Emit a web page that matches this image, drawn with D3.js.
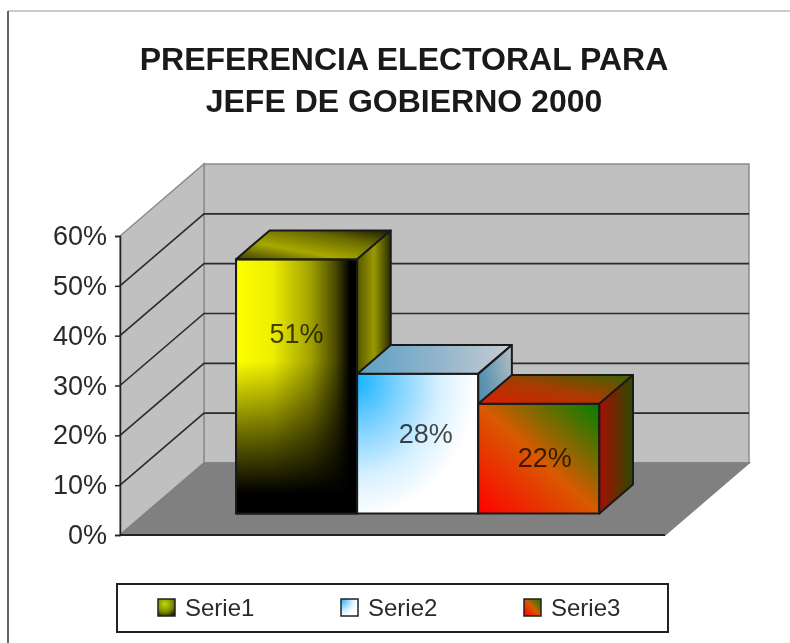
<!DOCTYPE html>
<html>

<head>
    <meta charset="utf-8">
    <title>Preferencia electoral</title>
    <style>
        html, body {
            margin: 0;
            padding: 0;
            background: #fff;
        }

        svg {
            display: block;
            font-family: 'Liberation Sans', Arial, sans-serif;
            /* the source is a soft jpeg */
            filter: blur(0.55px);
        }

        .y .domain,
        .y .tick line {
            stroke: #222;
            stroke-width: 1.5px;
        }

        .y .tick text {
            font-size: 27px;
            fill: #2a2a2a;
        }
    </style>
</head>

<body>
    <svg width="790" height="643"></svg>
    <script src="https://d3js.org/d3.v7.min.js"></script>
    <script>
        let titleLines = ["PREFERENCIA ELECTORAL PARA", "JEFE DE GOBIERNO 2000"];
        let seriesNames = ["Serie1", "Serie2", "Serie3"];
        let seriesValues = [51, 28, 22];
        let valueLabels = ["51%", "28%", "22%"];
        let yTicks = [0, 10, 20, 30, 40, 50, 60];
        let gridValues = [10, 20, 30, 40, 50];

        let svg = d3.select("svg");
        let defs = svg.append("defs");

        // chart box, front plane of the 3d plot
        let plot = { left: 120, right: 665, top: 236, bottom: 535 };
        let depth = { dx: 84, dy: -72 };
        let barDepth = [0.3, 0.7]; // bars sit between these fractions of the depth

        let x = d3.scaleBand()
            .domain(seriesNames)
            .range([plot.left, plot.right])
            .paddingInner(0)
            .paddingOuter(0.75);

        let y = d3.scaleLinear()
            .domain([0, 60])
            .range([plot.bottom, plot.top]);

        // x in pixels, value in %, d = 0 front .. 1 back
        let pt = (px, v, d) => [px + depth.dx * d, y(v) + depth.dy * d];
        let poly = d3.line();

        // gradients
        function linear(id, x1, y1, x2, y2, stops) {
            let g = defs.append("linearGradient").attr("id", id)
                .attr("x1", x1).attr("y1", y1).attr("x2", x2).attr("y2", y2);
            stops.forEach(s => g.append("stop")
                .attr("offset", s[0])
                .attr("stop-color", s[1])
                .attr("stop-opacity", s[2] === undefined ? 1 : s[2]));
        }
        function radial(id, cx, cy, r, stops) {
            let g = defs.append("radialGradient").attr("id", id)
                .attr("cx", cx).attr("cy", cy).attr("r", r);
            stops.forEach(s => g.append("stop").attr("offset", s[0]).attr("stop-color", s[1]));
        }

        linear("front0", 0, 0, 1, 0, [[0, "#ffff00"], [0.3, "#eeee00"], [0.62, "#a0a000"], [0.82, "#4a4a00"], [0.94, "#000"], [1, "#000"]]);
        // darkens the first bar towards the floor
        linear("shade0", 0, 0, 0, 1, [[0, "#000", 0], [0.4, "#000", 0], [0.7, "#000", 0.6], [0.92, "#000", 1], [1, "#000", 1]]);
        radial("swatch0", 0.4, 0.3, 0.8, [[0, "#c4d800"], [0.6, "#7a8a00"], [1, "#1a1a00"]]);
        linear("top0", 0, 1, 1, 0, [[0, "#3d3d00"], [0.35, "#a8a800"], [0.7, "#6b6b00"], [1, "#1a1a00"]]);
        linear("side0", 0, 0, 1, 0, [[0, "#555500"], [0.5, "#9a9a00"], [1, "#2a2a00"]]);

        radial("front1", 0, 0.05, 1.15, [[0, "#18b4ff"], [0.3, "#7fd2ff"], [0.6, "#d8f1ff"], [0.85, "#ffffff"], [1, "#ffffff"]]);
        linear("top1", 0, 0, 1, 0, [[0, "#5d9fc4"], [0.5, "#8fb4cb"], [1, "#c6cdd2"]]);
        linear("side1", 0, 1, 1, 0, [[0, "#2f7d9c"], [0.5, "#5f95b0"], [1, "#b5bec4"]]);

        linear("front2", 0, 1, 1, 0, [[0, "#ff0000"], [0.5, "#d85a00"], [1, "#008000"]]);
        linear("top2", 0, 1, 1, 0, [[0, "#d82000"], [0.5, "#a83c00"], [1, "#356600"]]);
        linear("side2", 0, 0, 1, 0, [[0, "#a81000"], [0.5, "#6a2a00"], [1, "#2a4a00"]]);

        // frame of the picture
        svg.append("line").attr("x1", 8).attr("x2", 790).attr("y1", 11).attr("y2", 11)
            .attr("stroke", "#bbb").attr("stroke-width", 1.5);
        svg.append("line").attr("x1", 8).attr("x2", 8).attr("y1", 11).attr("y2", 643)
            .attr("stroke", "#333").attr("stroke-width", 1.5);

        // title
        svg.append("g")
            .selectAll("text")
            .data(titleLines)
            .join("text")
            .attr("x", 404)
            .attr("y", (d, i) => 70 + i * 42)
            .attr("text-anchor", "middle")
            .attr("font-size", 32)
            .attr("font-weight", 700)
            .attr("fill", "#1a1a1a")
            .text(d => d);

        // walls and floor
        let walls = svg.append("g").attr("stroke", "#8c8c8c").attr("stroke-width", 1.5);
        walls.append("path")
            .attr("d", poly([pt(plot.left, 0, 1), pt(plot.right, 0, 1), pt(plot.right, 60, 1), pt(plot.left, 60, 1)]) + "Z")
            .attr("fill", "#c0c0c0");
        walls.append("path")
            .attr("d", poly([pt(plot.left, 0, 0), pt(plot.left, 0, 1), pt(plot.left, 60, 1), pt(plot.left, 60, 0)]) + "Z")
            .attr("fill", "#c0c0c0");
        walls.append("path")
            .attr("d", poly([pt(plot.left, 0, 0), pt(plot.right, 0, 0), pt(plot.right, 0, 1), pt(plot.left, 0, 1)]) + "Z")
            .attr("fill", "#808080")
            .attr("stroke", "#808080");

        // gridlines on left wall and back wall
        svg.append("g")
            .selectAll("path")
            .data(gridValues)
            .join("path")
            .attr("d", v => poly([pt(plot.left, v, 0), pt(plot.left, v, 1), pt(plot.right, v, 1)]))
            .attr("fill", "none")
            .attr("stroke", "#2b2b2b")
            .attr("stroke-width", 1.6);

        // floor front edge
        svg.append("line")
            .attr("x1", plot.left).attr("x2", plot.right)
            .attr("y1", y(0)).attr("y2", y(0))
            .attr("stroke", "#222").attr("stroke-width", 2);

        let yAxis = d3.axisLeft(y)
            .tickValues(yTicks)
            .tickSize(5)
            .tickPadding(8)
            .tickFormat(d => d + "%");

        svg.append("g")
            .attr("class", "y")
            .attr("transform", `translate(${plot.left},0)`)
            .call(yAxis);

        // bars, left to right so each one covers the side of the previous
        let bars = svg.append("g")
            .selectAll("g")
            .data(seriesNames)
            .join("g")
            .attr("stroke", "#1a1a1a")
            .attr("stroke-width", 2)
            .attr("stroke-linejoin", "round");

        let d0 = barDepth[0];
        let d1 = barDepth[1];

        let frontFace = (d, i) => {
            let a = x(d);
            let b = a + x.bandwidth();
            let v = seriesValues[i];
            return poly([pt(a, 0, d0), pt(b, 0, d0), pt(b, v, d0), pt(a, v, d0)]) + "Z";
        };

        bars.append("path")
            .attr("fill", (d, i) => `url(#front${i})`)
            .attr("d", frontFace);

        bars.filter((d, i) => i == 0)
            .append("path")
            .attr("fill", "url(#shade0)")
            .attr("d", frontFace);

        bars.append("path")
            .attr("fill", (d, i) => `url(#top${i})`)
            .attr("d", (d, i) => {
                let a = x(d);
                let b = a + x.bandwidth();
                let v = seriesValues[i];
                return poly([pt(a, v, d0), pt(b, v, d0), pt(b, v, d1), pt(a, v, d1)]) + "Z";
            });

        bars.append("path")
            .attr("fill", (d, i) => `url(#side${i})`)
            .attr("d", (d, i) => {
                let b = x(d) + x.bandwidth();
                let v = seriesValues[i];
                return poly([pt(b, 0, d0), pt(b, 0, d1), pt(b, v, d1), pt(b, v, d0)]) + "Z";
            });

        // value labels, Excel puts them a bit off centre
        let labelShift = [[0, -53], [8, -10], [6, -1]];

        svg.append("g")
            .selectAll("text")
            .data(valueLabels)
            .join("text")
            .attr("x", (d, i) => x(seriesNames[i]) + x.bandwidth() / 2 + depth.dx * d0 + labelShift[i][0])
            .attr("y", (d, i) => (pt(0, 0, d0)[1] + pt(0, seriesValues[i], d0)[1]) / 2 + labelShift[i][1])
            .attr("dy", "0.35em")
            .attr("text-anchor", "middle")
            .attr("font-size", 27)
            .attr("fill", "#000")
            .attr("fill-opacity", 0.72)
            .text(d => d);

        // legend
        svg.append("rect")
            .attr("x", 117).attr("y", 584)
            .attr("width", 551).attr("height", 48)
            .attr("fill", "#fff")
            .attr("stroke", "#222")
            .attr("stroke-width", 2);

        let legendX = d3.scalePoint()
            .domain(seriesNames)
            .range([158, 524]);

        let legend = svg.append("g")
            .selectAll("g")
            .data(seriesNames)
            .join("g")
            .attr("transform", d => `translate(${legendX(d)},599)`);

        legend.append("rect")
            .attr("width", 17).attr("height", 17)
            .attr("fill", (d, i) => i == 0 ? "url(#swatch0)" : `url(#front${i})`)
            .attr("stroke", "#222")
            .attr("stroke-width", 1.5);

        legend.append("text")
            .attr("x", 27)
            .attr("y", 17)
            .attr("font-size", 24)
            .attr("fill", "#2a2a2a")
            .text(d => d);
    </script>
</body>

</html>
